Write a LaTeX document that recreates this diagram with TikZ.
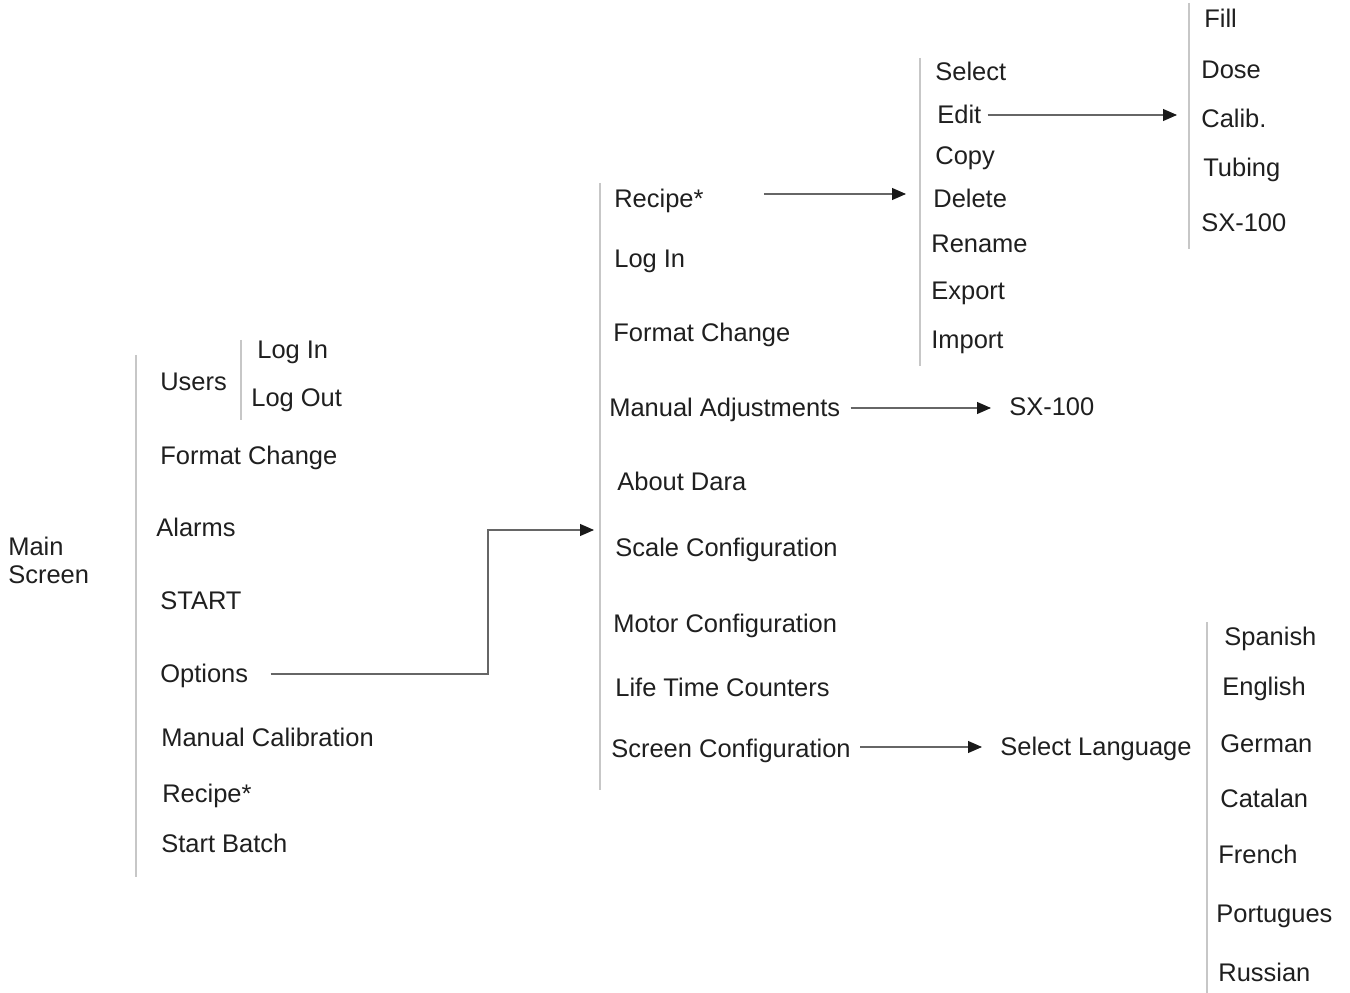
\documentclass[tikz,border=0pt]{standalone}
\usepackage{fontspec}
\setmainfont{Liberation Sans}
\usepackage{tikz}
\usetikzlibrary{arrows.meta, calc}

\newcommand{\menufont}{\fontsize{14.5pt}{15.9pt}\selectfont}

\begin{document}
\begin{tikzpicture}[
  x=0.02cm, y=-0.02cm,
  item/.style={anchor=base west, inner sep=0pt, font=\menufont, text=black!88},
  bar/.style={draw=black!22, line width=0.7pt},
  link/.style={draw=black!60, line width=0.6pt, ->},
  >={Triangle[length=0.28cm, width=0.24cm, color=black!90]}
]
\useasboundingbox (0,0) rectangle (1350,993);

% main screen and its menu
\node[item, anchor=west, align=left] (main) at (8,560) {Main\\Screen};
\draw[bar] (136,355) -- (136,877);
\node[item] (users)   at (160,391) {Users};
\draw[bar] (241,340) -- (241,420);
\node[item] (ulogin)  at (257,358) {Log In};
\node[item] (ulogout) at (251,407) {Log Out};
\node[item] (mfmt)    at (160,464) {Format Change};
\node[item] (alarms)  at (156,536) {Alarms};
\node[item] (start)   at (160,609) {START};
\node[item] (options) at (160,682) {Options};
\node[item] (mcal)    at (161,746) {Manual Calibration};
\node[item] (mrecipe) at (162,802) {Recipe*};
\node[item] (batch)   at (161,852) {Start Batch};

% options menu
\draw[bar] (600,183) -- (600,790);
\coordinate (optin) at (594,530);
\node[item] (orecipe) at (614,208) {Recipe*};
\node[item] (ologin)  at (614,268) {Log In};
\node[item] (ofmt)    at (613,342) {Format Change};
\node[item] (manadj)  at (609,417) {Manual Adjustments};
\node[item] (sx)      at (1009,416) {SX-100};
\node[item] (about)   at (617,490) {About Dara};
\node[item] (scale)   at (615,556) {Scale Configuration};
\node[item] (motor)   at (613,632) {Motor Configuration};
\node[item] (life)    at (615,696) {Life Time Counters};
\node[item] (screen)  at (611,757) {Screen Configuration};
\node[item] (lang)    at (1000,755) {Select Language};

% recipe menu
\draw[bar] (920,58) -- (920,366);
\node[item] (select)  at (935,81)  {Select};
\node[item] (edit)    at (937,124) {Edit};
\node[item] (copy)    at (935,165) {Copy};
\node[item] (delete)  at (933,208) {Delete};
\node[item] (rename)  at (931,253) {Rename};
\node[item] (export)  at (931,300) {Export};
\node[item] (import)  at (931,349) {Import};

% edit menu
\draw[bar] (1189,3) -- (1189,249);
\node[item] (fill)    at (1204,28)  {Fill};
\node[item] (dose)    at (1201,79)  {Dose};
\node[item] (calib)   at (1201,128) {Calib.};
\node[item] (tubing)  at (1203,177) {Tubing};
\node[item] (sxe)     at (1201,232) {SX-100};

% languages
\draw[bar] (1207,622) -- (1207,993);
\node[item] (spanish)   at (1224,645) {Spanish};
\node[item] (english)   at (1222,695) {English};
\node[item] (german)    at (1220,752) {German};
\node[item] (catalan)   at (1220,807) {Catalan};
\node[item] (french)    at (1218,863) {French};
\node[item] (portugues) at (1216,922) {Portugues};
\node[item] (russian)   at (1218,981) {Russian};

% links
\draw[link] ($(options.base east)+(22,-8)$) -| ($(optin)+(-106,0)$) -- (optin);
\draw[link] ($(orecipe.base east)+(60,-14)$) -- ($(delete.base west)+(-27,-14)$);
\draw[link] ($(edit.base east)+(6,-9)$) -- ($(calib.base west)+(-24,-13)$);
\draw[link] ($(manadj.base east)+(10,-9)$) -- ($(sx.base west)+(-18,-8)$);
\draw[link] ($(screen.base east)+(9,-10)$) -- ($(lang.base west)+(-18,-8)$);
\end{tikzpicture}
\end{document}
